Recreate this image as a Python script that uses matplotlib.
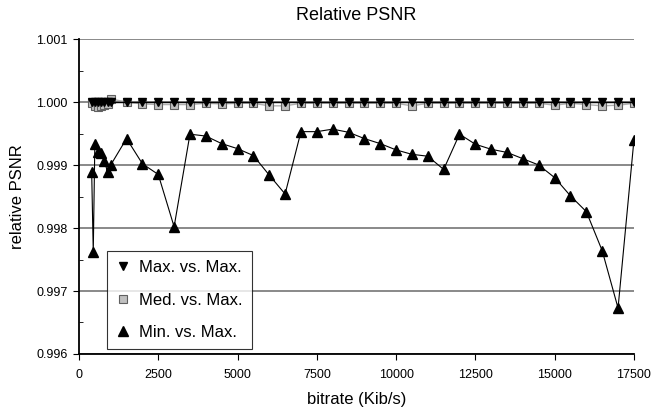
import matplotlib
matplotlib.use("Agg")
import matplotlib.pyplot as plt
from matplotlib.ticker import MultipleLocator, FormatStrFormatter

plt.rcParams['font.family'] = ['Liberation Sans', 'DejaVu Sans']

bitrate = [400, 500, 600, 700, 800, 900, 1000,
           1500, 2000, 2500, 3000, 3500, 4000, 4500, 5000, 5500, 6000, 6500,
           7000, 7500, 8000, 8500, 9000, 9500, 10000, 10500, 11000, 11500,
           12000, 12500, 13000, 13500, 14000, 14500, 15000, 15500, 16000,
           16500, 17000, 17500]

max_vs_max = [1.0] * len(bitrate)

med_vs_max = [0.99998, 0.99994, 0.99992, 0.99993, 0.99995, 0.99997, 1.00005,
              1.0, 0.99997, 0.99996, 0.99996, 0.99996, 0.99998, 0.99997, 0.99998, 0.99998,
              0.99994, 0.99994, 0.99998, 0.99998, 0.99998, 0.99998, 0.99998,
              0.99998, 0.99998, 0.99994, 0.99998, 0.99998, 0.99998, 0.99998,
              0.99998, 0.99998, 0.99998, 0.99998, 0.99995, 0.99998, 0.99996,
              0.99994, 0.99995, 0.99998]

min_vs_max = [0.99889, 0.99762, 0.99934, 0.99921, 0.99919, 0.99907, 0.99889, 0.99900,
              0.99942, 0.99902, 0.99885, 0.99802, 0.99949, 0.99946, 0.99934,
              0.99926, 0.99915, 0.99884, 0.99854, 0.99953, 0.99953, 0.99957,
              0.99952, 0.99942, 0.99934, 0.99924, 0.99917, 0.99914, 0.99893,
              0.99949, 0.99933, 0.99925, 0.99920, 0.99910, 0.99900, 0.99880,
              0.99851, 0.99826, 0.99764, 0.99673, 0.99939]

# the min series has one extra point in the low-bitrate cluster
min_bitrate = [400, 450, 500, 600, 700, 800, 900, 1000] + bitrate[7:]

fig = plt.figure(figsize=(6.61, 4.09), dpi=100)
ax = fig.add_axes([0.1195, 0.1345, 0.8395, 0.77])

ax.plot(bitrate, med_vs_max, color='#b0b0b0', lw=1.0, marker='s', ms=5.5,
        mfc='#c0c0c0', mec='#606060', mew=0.8, label='Med. vs. Max.', zorder=3)
ax.plot(bitrate, max_vs_max, color='black', lw=1.0, marker='v', ms=5.5,
        mfc='black', mec='black', label='Max. vs. Max.', zorder=4)
ax.plot(min_bitrate, min_vs_max, color='black', lw=0.8, marker='^', ms=6.5,
        mfc='black', mec='black', label='Min. vs. Max.', zorder=5)

ax.set_xlim(0, 17500)
ax.set_ylim(0.996, 1.001)
ax.xaxis.set_major_locator(MultipleLocator(2500))
ax.yaxis.set_major_locator(MultipleLocator(0.001))
ax.yaxis.set_minor_locator(MultipleLocator(0.0005))
ax.yaxis.set_major_formatter(FormatStrFormatter('%.3f'))
ax.grid(axis='y', which='major', color='#808080', lw=1.3)
ax.set_axisbelow(True)

for s in ['top', 'right']:
    ax.spines[s].set_visible(False)
ax.spines['left'].set_linewidth(1.3)
ax.spines['bottom'].set_linewidth(1.3)

ax.tick_params(axis='x', direction='out', length=4, pad=7, labelsize=9)
ax.tick_params(axis='y', which='major', direction='out', length=4, pad=4, labelsize=9)
ax.tick_params(axis='y', which='minor', direction='in', length=3)

ax.set_title('Relative PSNR', fontsize=13, pad=14)
ax.set_xlabel('bitrate (Kib/s)', fontsize=12, labelpad=8)
ax.set_ylabel('relative PSNR', fontsize=12, labelpad=8)

handles, labels = ax.get_legend_handles_labels()
order = [1, 0, 2]
leg = ax.legend([handles[i] for i in order], [labels[i] for i in order],
                loc='lower left', bbox_to_anchor=(0.05, 0.015), fontsize=12,
                frameon=True, fancybox=False, edgecolor='black',
                labelspacing=1.05, handlelength=0.8, handletextpad=0.6,
                borderpad=0.55, borderaxespad=0)
leg.get_frame().set_linewidth(0.8)
for h in leg.get_lines():
    h.set_linestyle('none')

fig.savefig('out.png', dpi=100)
